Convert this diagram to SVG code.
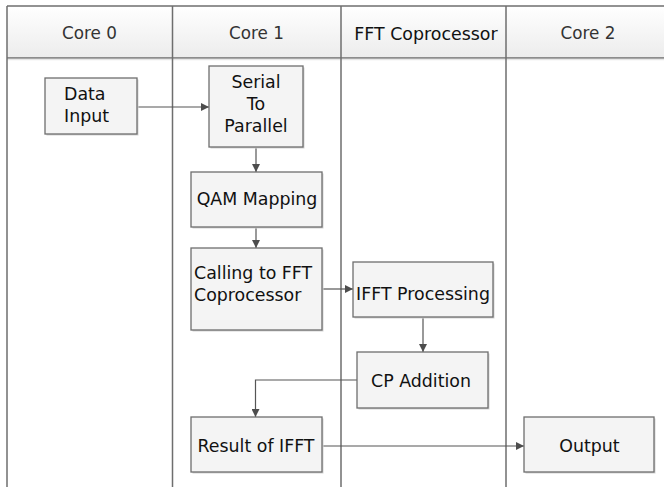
<svg xmlns="http://www.w3.org/2000/svg" width="664" height="487" viewBox="0 0 664 487">
<defs>
<linearGradient id="hdr" x1="0" y1="0" x2="0" y2="1">
<stop offset="0" stop-color="#ffffff"/>
<stop offset="1" stop-color="#ececec"/>
</linearGradient>
<marker id="ah" viewBox="0 0 8 8" refX="8" refY="4" markerWidth="8" markerHeight="8" markerUnits="userSpaceOnUse" orient="auto">
<path d="M0,0 L8,4 L0,8 z" fill="#4d4d4d"/>
</marker>
</defs>
<style>
.lane{stroke:#6e6e6e;stroke-width:1.5;fill:none}
.hd{font-family:"DejaVu Sans",sans-serif;font-size:16.8px;fill:#333;text-anchor:middle}
.box{fill:#f4f4f4;stroke:#6e6e6e;stroke-width:1.3}
.sh{fill:#d4d4d4}
.t{font-family:"DejaVu Sans",sans-serif;font-size:17.4px;fill:#111}
.c{text-anchor:middle}
.edge{stroke:#555;stroke-width:1.2;fill:none;marker-end:url(#ah)}
</style>
<rect x="0" y="0" width="664" height="487" fill="#ffffff"/>
<g id="lanes">
<rect x="7" y="6" width="657" height="52" fill="url(#hdr)"/>
<line class="lane" x1="7" y1="6" x2="664" y2="6"/>
<line class="lane" x1="7" y1="58" x2="664" y2="58"/>
<line x1="7" y1="59.5" x2="664" y2="59.5" stroke="#e6e6e6" stroke-width="1.5"/>
<line class="lane" x1="7" y1="6" x2="7" y2="487"/>
<line class="lane" x1="172.5" y1="6" x2="172.5" y2="487"/>
<line class="lane" x1="341" y1="6" x2="341" y2="487"/>
<line class="lane" x1="506" y1="6" x2="506" y2="487"/>
<text class="hd" x="89.5" y="39">Core 0</text>
<text class="hd" x="256.5" y="39">Core 1</text>
<text class="hd" x="426" y="40" style="fill:#111;font-size:17.4px">FFT Coprocessor</text>
<text class="hd" x="588" y="39">Core 2</text>
</g>
<g id="connectors">
<path class="edge" d="M137,107 H209"/>
<path class="edge" d="M256,147 V172"/>
<path class="edge" d="M256,227 V248"/>
<path class="edge" d="M322,289 H353"/>
<path class="edge" d="M423,317 V352"/>
<path class="edge" d="M357,380 H255.5 V417"/>
<path class="edge" d="M322,446 H524"/>
</g>
<g id="data-input">
<rect class="sh" x="46.5" y="79.5" width="92" height="56"/>
<rect class="box" x="45" y="78" width="92" height="56"/>
<text class="t" x="64" y="100">Data</text>
<text class="t" x="64" y="122">Input</text>
</g>
<g id="serial-to-parallel">
<rect class="sh" x="210.5" y="67.5" width="94" height="81"/>
<rect class="box" x="209" y="66" width="94" height="81"/>
<text class="t c" x="256" y="88">Serial</text>
<text class="t c" x="256" y="110">To</text>
<text class="t c" x="256" y="132">Parallel</text>
</g>
<g id="qam-mapping">
<rect class="sh" x="192.5" y="173.5" width="131" height="55"/>
<rect class="box" x="191" y="172" width="131" height="55"/>
<text class="t c" x="257" y="205">QAM Mapping</text>
</g>
<g id="calling-fft">
<rect class="sh" x="192.5" y="249.5" width="131" height="82"/>
<rect class="box" x="191" y="248" width="131" height="82"/>
<text class="t" x="194" y="279">Calling to FFT</text>
<text class="t" x="194" y="301">Coprocessor</text>
</g>
<g id="ifft-processing">
<rect class="sh" x="354.5" y="263.5" width="140" height="55"/>
<rect class="box" x="353" y="262" width="140" height="55"/>
<text class="t c" x="423" y="300">IFFT Processing</text>
</g>
<g id="cp-addition">
<rect class="sh" x="358.5" y="353.5" width="131" height="56"/>
<rect class="box" x="357" y="352" width="131" height="56"/>
<text class="t c" x="421" y="387">CP Addition</text>
</g>
<g id="result-ifft">
<rect class="sh" x="192.5" y="418.5" width="131" height="55"/>
<rect class="box" x="191" y="417" width="131" height="55"/>
<text class="t c" x="256" y="452">Result of IFFT</text>
</g>
<g id="output">
<rect class="sh" x="525.5" y="418.5" width="130" height="55"/>
<rect class="box" x="524" y="417" width="130" height="55"/>
<text class="t c" x="589.5" y="452">Output</text>
</g>
</svg>
